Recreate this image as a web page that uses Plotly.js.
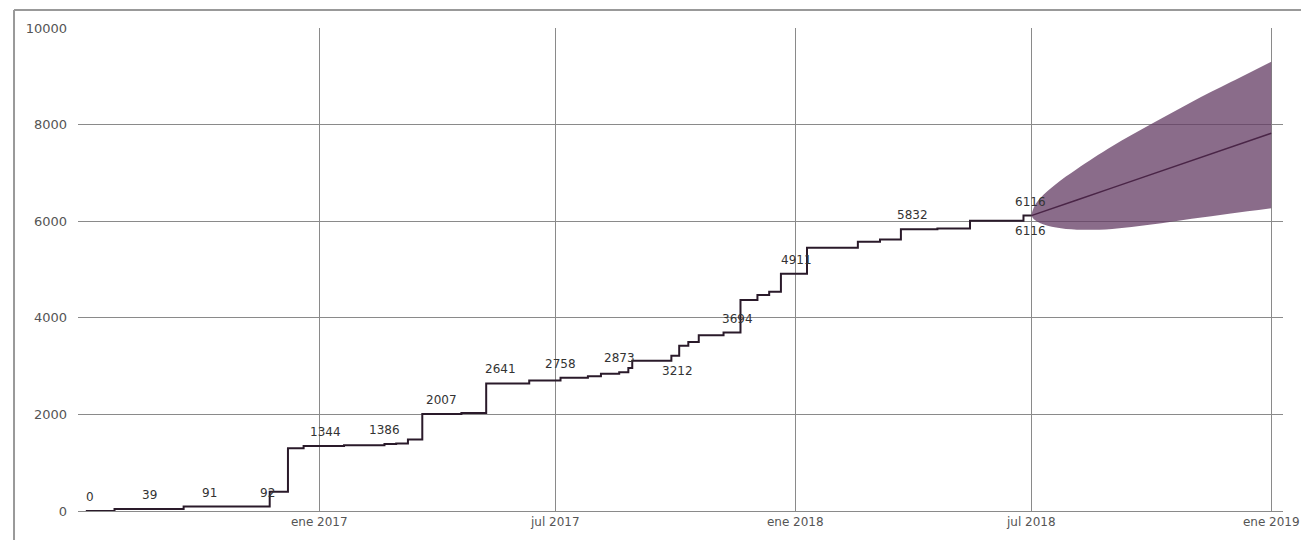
<!DOCTYPE html>
<html>
<head>
<meta charset="utf-8">
<script src="https://cdn.plot.ly/plotly-3.0.1.min.js"></script>
<style>html,body{margin:0;padding:0;background:#fff;}#chart{width:1301px;height:540px;}</style>
</head>
<body>
<div id="chart"></div>
<script>
// Observed cumulative series (step line)
var histDates = ['2016-07-06','2016-07-28','2016-09-19','2016-11-01','2016-11-24','2016-12-08','2016-12-20','2017-01-20','2017-02-20','2017-03-01','2017-03-10','2017-03-21','2017-04-20','2017-05-09','2017-06-11','2017-07-05','2017-07-26','2017-08-05','2017-08-19','2017-08-26','2017-08-29','2017-09-28','2017-10-04','2017-10-11','2017-10-19','2017-11-07','2017-11-20','2017-12-03','2017-12-12','2017-12-21','2018-01-10','2018-02-18','2018-03-07','2018-03-23','2018-04-20','2018-05-15','2018-06-25','2018-07-01'];
var histValues = [0,39,91,92,400,1298,1344,1360,1386,1400,1480,2007,2030,2641,2700,2758,2790,2840,2873,2960,3110,3212,3420,3500,3640,3694,4369,4470,4540,4911,5451,5576,5620,5832,5850,6010,6116,6116];

// Forecast (central line and band)
var fcDates = ['2018-07-01','2018-07-03','2018-07-08','2018-07-20','2018-08-05','2018-09-01','2018-10-01','2018-11-01','2018-12-01','2019-01-01'];
var fcMid   = [6116,6135,6181,6292,6440,6690,6968,7255,7530,7820];
var fcUpper = [6116,6290,6480,6770,7080,7550,8010,8470,8880,9303];
var fcLower = [6116,6040,5960,5870,5825,5840,5930,6050,6160,6270];

// Value labels
var labelDates  = ['2016-07-09','2016-08-24','2016-10-09','2016-11-22','2017-01-06','2017-02-20','2017-04-05','2017-05-20','2017-07-05','2017-08-19','2017-10-03','2017-11-18','2018-01-02','2018-04-01','2018-06-30','2018-06-30'];
var labelValues = [0,39,91,92,1344,1386,2007,2641,2758,2873,3212,3694,4911,5832,6116,6116];
var labelSide   = ['up','up','up','up','up','up','up','up','up','up','down','up','up','up','up','down'];

// Axis ticks
var xTickVals = ['2017-01-01','2017-07-01','2018-01-01','2018-07-01','2019-01-01'];
var xTickText = ['ene 2017','jul 2017','ene 2018','jul 2018','ene 2019'];
var yTickVals = [0,2000,4000,6000,8000,10000];
var yTickText = ['0','2000','4000','6000','8000','10000'];

var traces = [
  {x: fcDates, y: fcUpper, type:'scatter', mode:'lines', line:{width:0, shape:'spline', smoothing:1}, hoverinfo:'skip', showlegend:false},
  {x: fcDates, y: fcLower, type:'scatter', mode:'lines', line:{width:0, shape:'spline', smoothing:1}, fill:'tonexty',
   fillcolor:'rgba(99,59,99,0.75)', hoverinfo:'skip', showlegend:false},
  {x: fcDates, y: fcMid, type:'scatter', mode:'lines', line:{color:'#4a2547', width:1.5}, showlegend:false},
  {x: histDates, y: histValues, type:'scatter', mode:'lines', line:{shape:'hv', color:'#2a1a2a', width:2}, showlegend:false}
];

var annotations = labelDates.map(function(d,i){
  return {x:d, y:labelValues[i], xref:'x', yref:'y', text:String(labelValues[i]), showarrow:false,
    yshift: labelSide[i]==='up' ? 14 : -15,
    font:{family:'DejaVu Sans, Verdana, sans-serif', size:12, color:'#333'}};
});

var layout = {
  width:1301, height:540,
  margin:{l:78, r:18, t:28, b:29, pad:0},
  paper_bgcolor:'#fff', plot_bgcolor:'#fff',
  showlegend:false,
  xaxis:{type:'date', range:['2016-06-30','2019-01-10'], tickmode:'array', tickvals:xTickVals, ticktext:xTickText,
    showgrid:true, gridcolor:'#8a8a8a', gridwidth:1, zeroline:false, showline:true, linecolor:'#8a8a8a', linewidth:1,
    ticks:'', tickfont:{family:'DejaVu Sans, Verdana, sans-serif', size:12, color:'#555'}},
  yaxis:{range:[0,10000], tickmode:'array', tickvals:yTickVals, ticktext:yTickText, showgrid:true, gridcolor:'#8a8a8a', gridwidth:1,
    zeroline:false, showline:false, ticks:'', ticklabelstandoff:10,
    tickfont:{family:'DejaVu Sans, Verdana, sans-serif', size:13, color:'#555'}},
  annotations: annotations,
  shapes:[
    {type:'line', xref:'paper', yref:'paper', x0:-0.0531, x1:1.02, y0:1.0373, y1:1.0373, line:{color:'#999', width:2}},
    {type:'line', xref:'paper', yref:'paper', x0:-0.0531, x1:-0.0531, y0:1.0373, y1:-0.08, line:{color:'#999', width:2}}
  ]
};

Plotly.newPlot('chart', traces, layout, {displayModeBar:false, staticPlot:true});
</script>
</body>
</html>
